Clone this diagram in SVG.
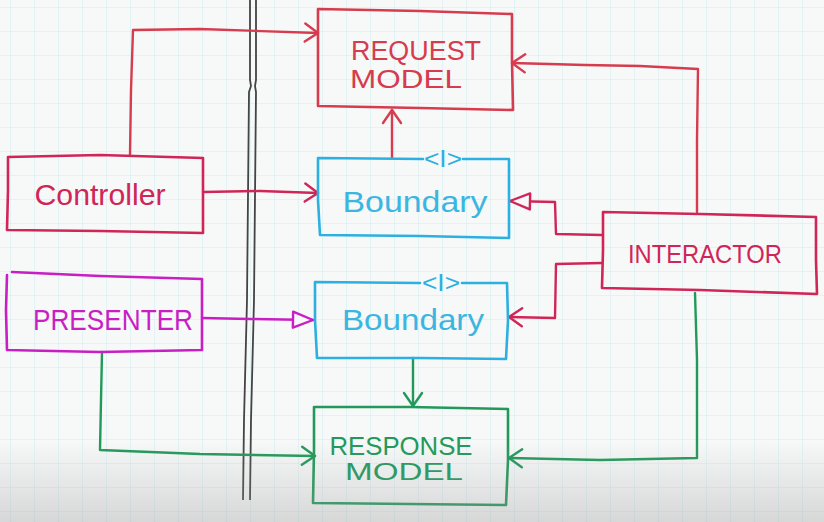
<svg xmlns="http://www.w3.org/2000/svg" width="824" height="522" viewBox="0 0 824 522">
<style>
.box{fill:none;stroke-width:2.6;stroke-linejoin:round;stroke-linecap:round}
.ln{fill:none;stroke-width:2.4;stroke-linejoin:round;stroke-linecap:round}
.t{font-family:"Liberation Sans","DejaVu Sans",sans-serif;text-anchor:middle}
.red{stroke:#d63c4e}
.crim{stroke:#cf2657}
.cyan{stroke:#2bb0e0}
.mag{stroke:#c81ec4}
.grn{stroke:#22995a}
</style>
<defs>
<pattern id="grid" x="10" y="7" width="24" height="24" patternUnits="userSpaceOnUse">
<path d="M0,0 V24 M0,0 H24" fill="none" stroke="#cfeef2" stroke-width="1"/>
</pattern>
<linearGradient id="shade" x1="0" y1="0" x2="0" y2="1">
<stop offset="0" stop-color="#9a9a9a" stop-opacity="0"/>
<stop offset="1" stop-color="#9a9a9a" stop-opacity="0.35"/>
</linearGradient>
<marker id="aRed" viewBox="-16 -12 20 24" markerWidth="20" markerHeight="24" refX="0" refY="0" orient="auto" markerUnits="userSpaceOnUse">
<path d="M-13,-9 L0,0 L-13,9" fill="none" stroke="#d63c4e" stroke-width="2.4" stroke-linecap="round" stroke-linejoin="round"/>
</marker>
<marker id="aCrim" viewBox="-16 -12 20 24" markerWidth="20" markerHeight="24" refX="0" refY="0" orient="auto" markerUnits="userSpaceOnUse">
<path d="M-13,-9 L0,0 L-13,9" fill="none" stroke="#cf2657" stroke-width="2.4" stroke-linecap="round" stroke-linejoin="round"/>
</marker>
<marker id="aGrn" viewBox="-16 -12 20 24" markerWidth="20" markerHeight="24" refX="0" refY="0" orient="auto" markerUnits="userSpaceOnUse">
<path d="M-13,-9 L0,0 L-13,9" fill="none" stroke="#22995a" stroke-width="2.4" stroke-linecap="round" stroke-linejoin="round"/>
</marker>
<marker id="tCrim" viewBox="-24 -12 28 24" markerWidth="28" markerHeight="24" refX="0" refY="0" orient="auto" markerUnits="userSpaceOnUse">
<path d="M-20,-8 L0,0 L-20,8 Z" fill="#f7f8f8" stroke="#cf2657" stroke-width="2.4" stroke-linejoin="round"/>
</marker>
<marker id="tMag" viewBox="-24 -12 28 24" markerWidth="28" markerHeight="24" refX="0" refY="0" orient="auto" markerUnits="userSpaceOnUse">
<path d="M-20,-8 L0,0 L-20,8 Z" fill="#f7f8f8" stroke="#c81ec4" stroke-width="2.4" stroke-linejoin="round"/>
</marker>
</defs>
<rect width="824" height="522" fill="#f7f8f8"/>
<rect width="824" height="522" fill="url(#grid)"/>

<g id="divider" fill="none" stroke="#444" stroke-width="1.8">
<path d="M250,0 L250,80 L251,86 L249,92 L247,300 L244,420 L243,500"/>
<path d="M256,0 L256,80 L255,86 L256,92 L254,300 L251,420 L250,500"/>
</g>

<g id="connectors">
<path id="c-ctrl-req" class="ln red" d="M130,155 L131,90 L133,30 L200,29 L318,33" marker-end="url(#aRed)"/>
<path id="c-ctrl-bnd" class="ln crim" d="M203,192 L260,191 L318,193" marker-end="url(#aCrim)"/>
<path id="c-bnd-req" class="ln red" d="M392,158 L392,110" marker-end="url(#aRed)"/>
<path id="c-int-req" class="ln red" d="M697,212 L697,140 L698,69 L640,66 L585,65 L512,63" marker-end="url(#aRed)"/>
<path id="c-int-bnd1" class="ln crim" d="M602,235 L556,234 L555,202 L510,201" marker-end="url(#tCrim)"/>
<path id="c-int-bnd2" class="ln crim" d="M602,263 L556,264 L555,318 L509,317" marker-end="url(#aCrim)"/>
<path id="c-pres-bnd" class="ln mag" d="M202,318 L250,319 L313,320" marker-end="url(#tMag)"/>
<path id="c-bnd-resp" class="ln grn" d="M413,358 L413,406" marker-end="url(#aGrn)"/>
<path id="c-pres-resp" class="ln grn" d="M102,352 L101,400 L100,450 L200,454 L315,456" marker-end="url(#aGrn)"/>
<path id="c-int-resp" class="ln grn" d="M695,293 L697,360 L697,458 L600,460 L509,458" marker-end="url(#aGrn)"/>
</g>

<g id="request-model">
<path class="box red" d="M318,9 L420,11 L512,14 L512,60 L513,110 L420,108 L318,106 L318,60 Z"/>
<text class="t" x="416" y="60" font-size="27" fill="#d63c4e" textLength="130" lengthAdjust="spacingAndGlyphs">REQUEST</text>
<text class="t" x="406" y="88" font-size="25" fill="#d63c4e" textLength="112" lengthAdjust="spacingAndGlyphs">MODEL</text>
</g>

<g id="controller">
<path class="box crim" d="M8,157 L100,155 L203,158 L203,200 L203,233 L100,231 L7,230 L8,190 Z"/>
<text class="t" x="100" y="205" font-size="29" fill="#cf2657" textLength="131" lengthAdjust="spacingAndGlyphs">Controller</text>
</g>

<g id="boundary-top">
<path class="box cyan" d="M423,159 L318,158 L318,200 L320,235 L420,236 L509,238 L509,200 L509,159 L463,159"/>
<text class="t" x="443" y="167" font-size="24" fill="#2bb0e0" textLength="38" lengthAdjust="spacingAndGlyphs">&lt;I&gt;</text>
<text class="t" x="415" y="212" font-size="30" fill="#3bb6e0" textLength="145" lengthAdjust="spacingAndGlyphs">Boundary</text>
</g>

<g id="presenter">
<path class="box mag" d="M12,272 L100,276 L202,279 L202,320 L202,350 L100,352 L7,350 L6,310 L7,275"/>
<text class="t" x="113" y="330" font-size="30" fill="#c81ec4" textLength="160" lengthAdjust="spacingAndGlyphs">PRESENTER</text>
</g>

<g id="interactor">
<path class="box crim" d="M603,212 L700,214 L816,217 L816,260 L817,294 L700,290 L602,288 L603,250 Z"/>
<text class="t" x="705" y="263" font-size="25" fill="#cf2657" textLength="154" lengthAdjust="spacingAndGlyphs">INTERACTOR</text>
</g>

<g id="boundary-bottom">
<path class="box cyan" d="M420,283 L315,282 L315,320 L317,358 L420,358 L506,359 L508,320 L507,283 L462,283"/>
<text class="t" x="441" y="291" font-size="24" fill="#2bb0e0" textLength="38" lengthAdjust="spacingAndGlyphs">&lt;I&gt;</text>
<text class="t" x="413" y="330" font-size="30" fill="#3bb6e0" textLength="142" lengthAdjust="spacingAndGlyphs">Boundary</text>
</g>

<g id="response-model">
<path class="box grn" d="M314,407 L410,407 L508,409 L508,460 L506,505 L410,504 L313,503 L314,450 Z"/>
<text class="t" x="401" y="455" font-size="25" fill="#22995a" textLength="143" lengthAdjust="spacingAndGlyphs">RESPONSE</text>
<text class="t" x="404" y="480" font-size="24" fill="#22995a" textLength="118" lengthAdjust="spacingAndGlyphs">MODEL</text>
</g>

<rect x="0" y="440" width="824" height="82" fill="url(#shade)"/>
</svg>
